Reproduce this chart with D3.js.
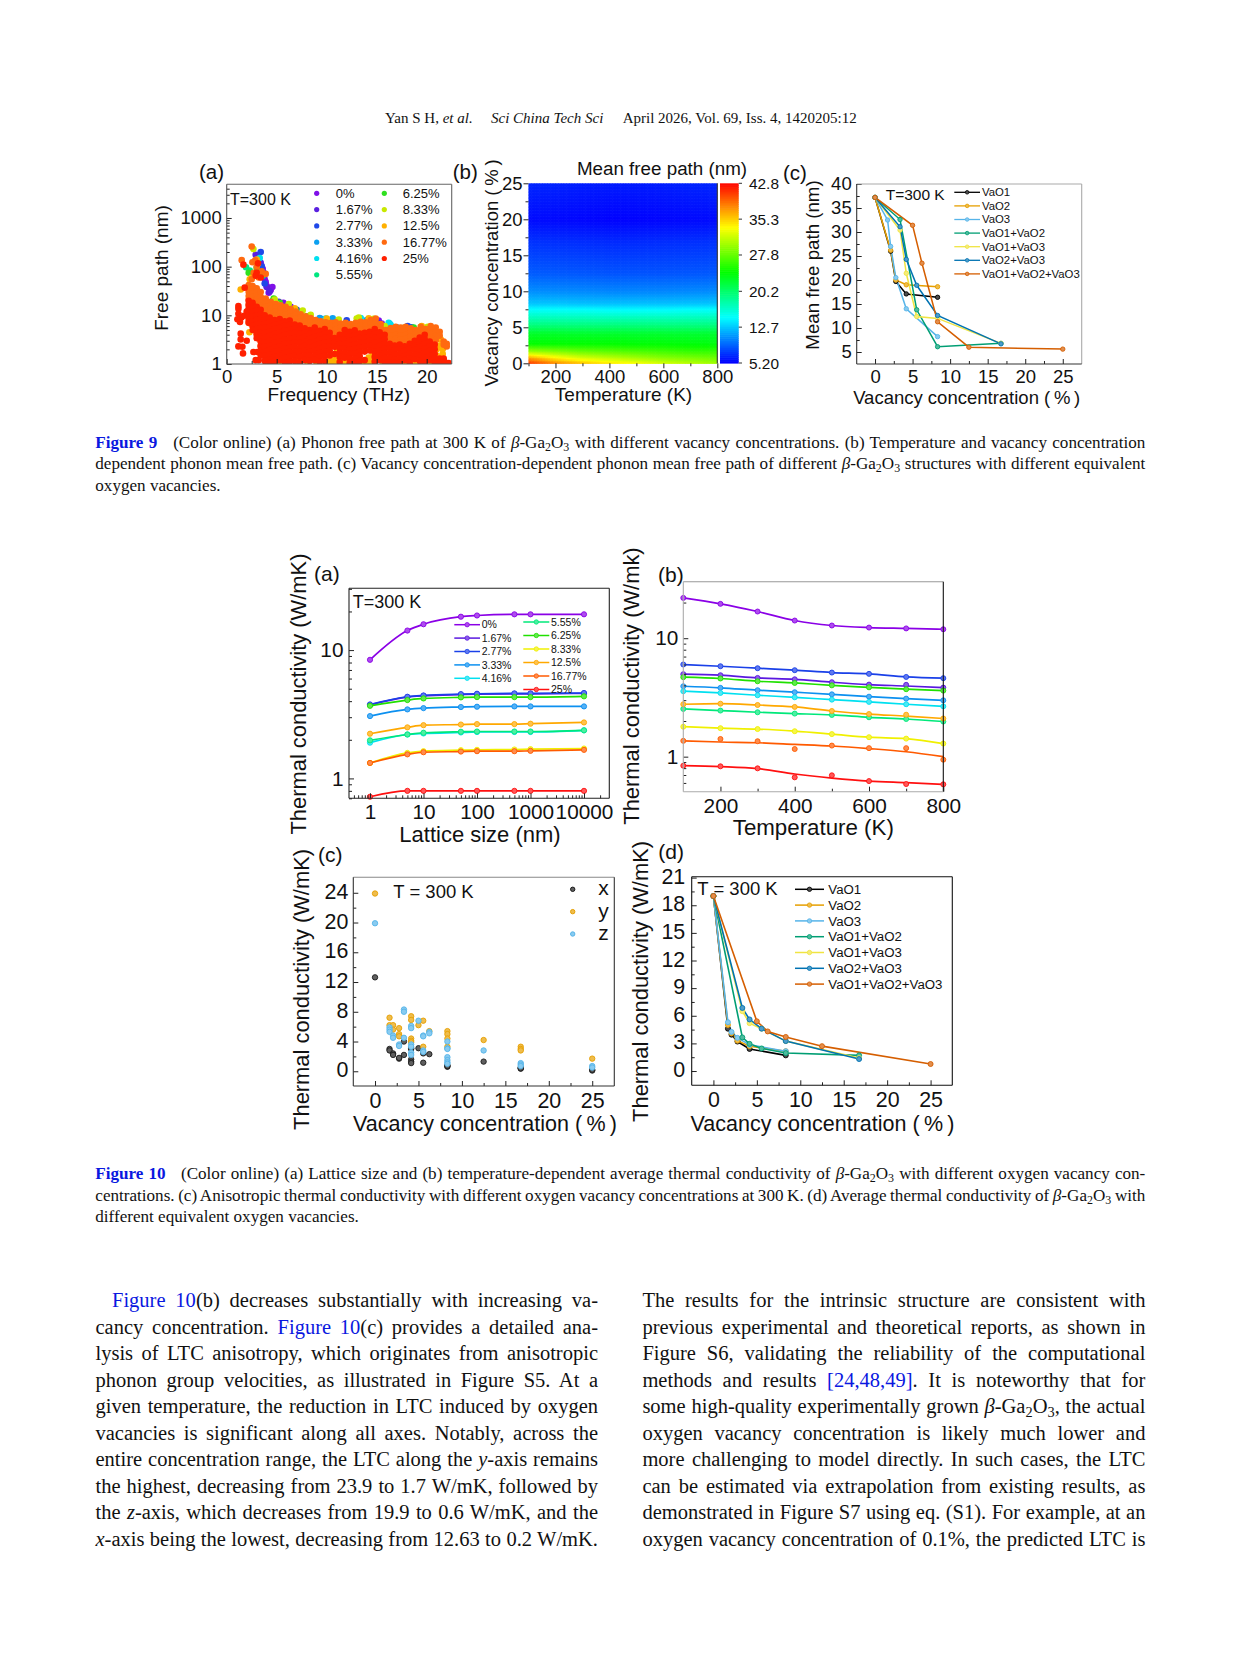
<!DOCTYPE html>
<html><head><meta charset="utf-8">
<script src="https://cdn.jsdelivr.net/npm/d3@7"></script>
<style>html,body{margin:0;padding:0;background:#fff}svg{display:block}
text{fill:#111}</style></head><body>
<svg id="page" width="1241" height="1654" viewBox="0 0 1241 1654"></svg>
<script>
// ---------- shared categories ----------
const vacancyLabels = ["0%","1.67%","2.77%","3.33%","4.16%","5.55%","6.25%","8.33%","12.5%","16.77%","25%"];
const vacancyColors = ["#7f10e8","#5a20e0","#1f48e8","#0ca0f0","#00e0f0","#00e680","#30e020","#c8e800","#ffb000","#ff6a10","#ff2000"];
const vacancyLineColors = ["#8a00e6","#5a18e0","#1a40e8","#0c90f0","#00e0f0","#00e87a","#20e000","#f0f000","#ffa800","#ff5a00","#ff1010"];
const defectLabels = ["VaO1","VaO2","VaO3","VaO1+VaO2","VaO1+VaO3","VaO2+VaO3","VaO1+VaO2+VaO3"];
const defectColors = ["#000000","#E69F00","#56B4E9","#009E73","#F0E442","#0072B2","#D55E00"];

// ---------- Fig 9(a): frequency, free path ----------
const fp0 = [[3.47,105],[3.6,90],[3.8,55],[3.9,48],[4.0,40],[4.2,29],[4.4,33],[4.57,38],[5.67,18],[6.4,15],[15.0,7.3],[15.2,7.8],[15.5,6.8],[15.9,5.3],[16.1,5]];
const fp1 = [[2.9,175],[3.4,120],[3.7,75],[4.0,38],[4.3,31],[5.2,19],[7,13],[15.1,7]];
const fp2 = [[3.4,200],[3.5,100],[3.8,45],[9.4,8.5],[12,7.9],[18.1,6],[18.5,5.7],[19.6,5.1],[16.9,5.5]];
const fp3 = [[9.3,8.8],[9.8,8.2],[10.6,8.7],[14,8],[16.3,6.7],[17,5.7]];
const fp4 = [[3.3,150],[16.2,7],[16.4,6.3],[18.6,5.4],[13.4,8.8],[9.9,8.6]];
const fp5 = [[1.93,97],[2.3,83],[3.6,65],[4.6,20],[8,9.5]];
const fp6 = [[2.2,75],[3.0,95],[3.3,62],[4.7,22],[5.3,18],[6.9,13],[17.6,5.5],[18.7,5.6]];
const fp8 = [[2.67,230],[3.1,115],[4.8,21],[6.2,17],[7.6,12.5],[8.4,10.3],[13.2,9],[13.0,8.6],[11.2,8.2],[14.7,8.5],[20.1,5.8],[15.8,6]];
const fp12 = [[1.4,34],[3,140],[2.5,60],[2.3,55],[2.27,4.5],[5,17],[6.8,14],[10,8.6],[14.2,8.7],[19.5,6],[4.2,1.1],[4.2,1.4],[4.2,1.8],[5.2,1.1],[5.2,1.4],[6.1,1.1],[6.1,1.5],[7.1,1.05],[7.1,1.35],[8.1,1.1],[8.1,1.4],[9,1.05],[9,1.4],[10.2,1.05],[10.2,1.25],[10.7,1.05],[10.7,1.3],[11,1.1],[11,1.8],[11.5,1.1],[12,1.1],[13,1.1],[13.5,1.05],[13.9,1.05],[14.1,1.1],[14.2,1.35],[14.4,1.05],[14.6,1.25],[14.6,1.6],[15.6,1.1],[16.5,1.1],[16.1,1.3],[17,1.05],[17.5,1.1],[18,1.05],[18.5,1.1],[19,1.05],[19.5,1.05],[20,1.05],[20.5,1.05],[21,1.05],[21,1.5],[21,2],[21.3,2.4],[21.4,3.2],[21.6,1.6],[21.6,2]];
const fp16 = [[2.5,260],[1.5,136],[2.57,123],[2.85,135],[3.9,71],[3.5,80],[3,100],[2.7,75],[3.2,60],[2.5,55],
 [2.2,42],[2.2,36],[2.2,30],[2.2,25],[2.2,21],[2.2,17],[2.2,14],[2.2,11],[2.2,9],[2.2,7],
 [2.6,40],[2.6,34],[2.6,28],[2.6,24],[2.6,20],[2.6,16],[2.6,13],[2.6,11],[2.6,9],[2.6,7.5],[2.6,6],
 [3.0,36],[3.0,30],[3.0,25],[3.0,21],[3.0,17],[3.0,14],[3.0,11.5],[3.0,9.5],[3.0,8],[3.0,6.5],[3.0,5],[3.0,4],
 [3.4,30],[3.4,24],[3.4,20],[3.4,16],[3.4,13],[3.4,11],[3.4,9],[3.4,7.5],[3.4,6],[3.4,4.8],[3.4,3.8],[3.4,3],[3.4,2.4],
 [3.9,22],[3.9,18],[3.9,15],[3.9,12.5],[3.9,10],[3.9,8.2],[3.9,6.8],[3.9,5.5],[3.9,4.4],[3.9,3.5],[3.9,2.8],
 [4.4,19],[4.4,16],[4.4,13.5],[4.4,11],[4.4,9],[4.4,7.4],[4.4,6],[4.4,4.9],
 [4.9,17],[4.9,14.5],[4.9,12],[4.9,10],[4.9,8.2],[4.9,6.8],[4.9,5.5],[4.9,4.5],
 [5.4,16],[5.4,13.5],[5.4,11],[5.4,9.2],[5.4,7.6],[5.4,6.2],[5.4,5],
 [5.9,15],[5.9,12.5],[5.9,10.5],[5.9,8.6],[5.9,7],[5.9,5.8],[5.9,4.7],
 [6.4,13.5],[6.4,11.5],[6.4,9.5],[6.4,8],[6.4,6.5],[6.4,5.3],
 [6.9,12],[6.9,10.2],[6.9,8.5],[6.9,7],[6.9,5.8],[6.9,4.8],
 [7.4,10.5],[7.4,9],[7.4,7.5],[7.4,6.2],[7.4,5.1],
 [7.9,9.5],[7.9,8],[7.9,6.7],[7.9,5.5],[7.9,4.5],
 [8.4,8.8],[8.4,7.3],[8.4,6.1],[8.4,5],
 [8.9,8],[8.9,6.8],[8.9,5.6],[8.9,4.6],[8.9,3.8],
 [9.4,7.5],[9.4,6.3],[9.4,5.2],[9.4,4.3],
 [9.9,7.2],[9.9,6],[9.9,5],[9.9,4.1],
 [10.4,7],[10.4,6],[10.4,5],[10.4,4.2],[10.4,3.4],[10.4,2.8],
 [10.9,7.2],[10.9,6],[10.9,5],[10.9,4.1],[10.9,3.4],
 [11.4,6.8],[11.4,5.7],[11.4,4.7],[11.4,3.9],[11.4,3.2],
 [11.9,7],[11.9,5.8],[11.9,4.8],[11.9,4],
 [12.4,6.6],[12.4,5.5],[12.4,4.6],
 [12.9,7],[12.9,5.9],[12.9,4.9],[12.9,4],
 [13.4,7.4],[13.4,6.2],[13.4,5.1],[13.4,4.2],
 [13.9,7.2],[13.9,6],[13.9,5],[13.9,4.1],
 [14.4,8],[14.4,6.6],[14.4,5.5],[14.4,4.5],[14.4,3.7],
 [14.9,8.6],[14.9,7],[14.9,5.8],[14.9,4.8],
 [15.4,6.6],[15.4,5.5],[15.4,4.5],
 [15.9,5],[15.9,4.2],[15.9,3.5],
 [16.4,5.5],[16.4,4.6],[16.4,3.8],[16.4,3.1],[16.4,2.6],
 [16.9,5.8],[16.9,4.8],[16.9,4],[16.9,3.3],[16.9,2.7],
 [17.4,5.6],[17.4,4.7],[17.4,3.9],[17.4,3.2],[17.4,2.7],
 [17.9,5.8],[17.9,4.8],[17.9,4],[17.9,3.3],[17.9,2.7],
 [18.4,5.4],[18.4,4.5],[18.4,3.7],[18.4,3],[18.4,2.5],
 [18.9,5],[18.9,4.1],[18.9,3.4],[18.9,2.8],
 [19.4,5.8],[19.4,4.8],[19.4,4],[19.4,3.3],
 [19.9,5.2],[19.9,4.3],[19.9,3.6],[19.9,3],
 [20.4,6],[20.4,5],[20.4,4.1],[20.4,3.4],[20.4,2.8],
 [20.9,5.6],[20.9,4.6],[20.9,3.8],[20.9,3.1],
 [21.3,4.6],[21.3,3.8],[21.7,2.9],[21.7,2.5],[22,2.6],[22,2.3]];
const fp25 = [[1.17,15.5],[1.17,13.7],[1.17,10.8],[1.07,8.3],[1.33,7.3],[1.47,9],[1.73,9.8],[1.4,4.2],[1.4,3.2],[2,3],[1.17,2.3],[1.57,2.26],[1.63,1.65],[2.67,1.76],[3.07,1.76],[2.9,1.2],[3.2,1.2],[1.67,110],[1.8,37],[2,12],[3.13,117],[3,75],[2.9,65],[3.4,60],
 [2.2,20],[2.2,16],[2.2,13],[2.2,10],[2.2,8],[2.2,7],
 [2.6,18],[2.6,15],[2.6,12],[2.6,9.5],[2.6,7.5],[2.6,6],[2.6,5],
 [3,15],[3,12.5],[3,10],[3,8],[3,6.5],[3,5.2],[3,4.2],[3,3.4],
 [3.4,13],[3.4,10.5],[3.4,8.5],[3.4,7],[3.4,5.6],[3.4,4.5],[3.4,3.6],[3.4,2.9],[3.4,2.3],[3.4,1.9],[3.4,1.5],
 [3.8,10],[3.8,8.2],[3.8,6.8],[3.8,5.5],[3.8,4.4],[3.8,3.5],[3.8,2.8],[3.8,2.3],[3.8,1.8],[3.8,1.45],[3.8,1.15],
 [4.3,9],[4.3,7.2],[4.3,5.8],[4.3,4.7],[4.3,3.8],[4.3,3],[4.3,2.4],[4.3,1.95],[4.3,1.55],[4.3,1.25],[4.3,1.05],
 [4.8,8],[4.8,6.5],[4.8,5.3],[4.8,4.2],[4.8,3.4],[4.8,2.7],[4.8,2.2],[4.8,1.75],[4.8,1.4],[4.8,1.15],
 [5.3,8.4],[5.3,6.8],[5.3,5.5],[5.3,4.4],[5.3,3.6],[5.3,2.9],[5.3,2.3],[5.3,1.85],[5.3,1.5],[5.3,1.2],
 [5.8,7.5],[5.8,6],[5.8,4.9],[5.8,4],[5.8,3.2],[5.8,2.6],[5.8,2.1],[5.8,1.7],[5.8,1.35],[5.8,1.08],
 [6.3,7.8],[6.3,6.3],[6.3,5.1],[6.3,4.1],[6.3,3.3],[6.3,2.65],[6.3,2.15],[6.3,1.75],[6.3,1.4],[6.3,1.12],
 [6.8,6.5],[6.8,5.3],[6.8,4.3],[6.8,3.5],[6.8,2.8],[6.8,2.25],[6.8,1.8],[6.8,1.45],[6.8,1.15],
 [7.3,6.2],[7.3,5],[7.3,4.1],[7.3,3.3],[7.3,2.7],[7.3,2.15],[7.3,1.75],[7.3,1.4],[7.3,1.1],
 [7.8,5.4],[7.8,4.4],[7.8,3.6],[7.8,2.9],[7.8,2.35],[7.8,1.9],[7.8,1.5],[7.8,1.2],
 [8.3,5],[8.3,4.1],[8.3,3.3],[8.3,2.7],[8.3,2.2],[8.3,1.8],[8.3,1.45],[8.3,1.15],
 [8.8,5.6],[8.8,4.5],[8.8,3.6],[8.8,2.9],[8.8,2.35],[8.8,1.9],[8.8,1.5],[8.8,1.2],
 [9.3,4.8],[9.3,3.9],[9.3,3.2],[9.3,2.6],[9.3,2.1],[9.3,1.7],[9.3,1.4],[9.3,1.1],
 [9.8,5.2],[9.8,4.2],[9.8,3.4],[9.8,2.8],[9.8,2.25],[9.8,1.8],[9.8,1.45],[9.8,1.15],
 [10.3,4.4],[10.3,3.6],[10.3,2.9],[10.3,2.3],[10.3,1.9],[10.3,1.5],
 [10.8,3.4],[10.8,2.8],[10.8,2.25],[10.8,1.6],
 [11.3,4],[11.3,3.2],[11.3,2.6],[11.3,2.1],[11.3,1.7],[11.3,1.4],[11.3,1.1],
 [11.8,5],[11.8,4],[11.8,3.2],[11.8,2.6],[11.8,2.1],[11.8,1.7],[11.8,1.35],
 [12.3,4.6],[12.3,3.7],[12.3,3],[12.3,2.4],[12.3,2],[12.3,1.6],[12.3,1.3],[12.3,1.05],
 [12.8,4.9],[12.8,3.9],[12.8,3.2],[12.8,2.55],[12.8,2.05],[12.8,1.65],[12.8,1.3],[12.8,1.05],
 [13.3,4.2],[13.3,3.4],[13.3,2.7],[13.3,2.2],[13.3,1.8],[13.3,1.45],[13.3,1.15],
 [13.8,4.4],[13.8,3.5],[13.8,2.8],[13.8,2.25],[13.8,1.8],[13.8,1.2],
 [14.3,4.6],[14.3,3.7],[14.3,3],[14.3,2.4],[14.3,1.9],
 [14.8,5.2],[14.8,4.2],[14.8,3.4],[14.8,2.7],[14.8,2.2],[14.8,1.75],[14.8,1.4],[14.8,1.12],
 [15.3,4.5],[15.3,3.6],[15.3,2.9],[15.3,2.35],[15.3,1.9],[15.3,1.5],[15.3,1.2],
 [15.8,4],[15.8,3.2],[15.8,2.6],[15.8,2.1],[15.8,1.7],[15.8,1.35],[15.8,1.08],
 [16.3,2.6],[16.3,2.1],[16.3,1.7],[16.3,1.35],[16.3,1.08],
 [16.8,2.4],[16.8,1.95],[16.8,1.55],[16.8,1.25],[16.8,1.05],
 [17.3,2.5],[17.3,2],[17.3,1.6],[17.3,1.3],[17.3,1.05],
 [17.8,2.3],[17.8,1.85],[17.8,1.5],[17.8,1.2],
 [18.3,2.6],[18.3,2.05],[18.3,1.65],[18.3,1.3],[18.3,1.05],
 [18.8,3],[18.8,2.4],[18.8,1.95],[18.8,1.55],[18.8,1.25],
 [19.3,3.5],[19.3,2.8],[19.3,2.25],[19.3,1.8],[19.3,1.45],[19.3,1.15],
 [19.8,4],[19.8,3.2],[19.8,2.6],[19.8,2.1],[19.8,1.7],[19.8,1.35],[19.8,1.08],
 [20.3,2.9],[20.3,2.3],[20.3,1.85],[20.3,1.5],[20.3,1.2],
 [20.8,2.5],[20.8,2],[20.8,1.6],[20.8,1.3],[20.8,1.05],
 [21.3,1.3],[21.3,1.1],[21.7,1.3],[21.8,1.1],[22.2,1.05]];
const freePathSeries = [fp0,fp1,fp2,fp3,fp4,fp5,fp6,fp8,fp12,fp16,fp25];

// ---------- Fig 9(b): mean free path heat map ----------
const hmTemps = [100,200,300,400,500,600,700,800];
const hmVac = [0,0.8,1.67,2.77,4.16,5.55,6.25,7.4,8.33,10,12.5,17,20,25];
const hmRow0  = [41,38,36,34.5,33.5,32,31,30];
const hmRow1  = [37,34,32,31,30,29,28.5,28];
const hmRow2  = [30,29,28,27.5,27,26.5,26,26];
const hmRow3  = [24,24,24,24,23.8,23.8,23.6,23.5];
const hmRow4  = [22.5,22.5,22.4,22.4,22.3,22.3,22.2,22.2];
const hmRow5  = [19,19,19,19,19,18.9,18.9,18.9];
const hmRow6  = [17.5,17.5,17.5,17.5,17.5,17.5,17.5,17.5];
const hmRow7  = [15,15,15,14.8,14.8,14.8,15,15];
const hmRow8  = [12.5,12.5,12.3,12.3,12.3,12.3,12.4,12.5];
const hmRow9  = [10.5,10.4,10.3,10.2,10.2,10.2,10.3,10.4];
const hmRow10 = [8.6,8.5,8.4,8.3,8.3,8.3,8.4,8.5];
const hmRow11 = [7,6.9,6.8,6.7,6.7,6.8,6.9,7];
const hmRow12 = [5.6,5.5,5.4,5.3,5.3,5.4,5.5,5.6];
const hmRow13 = [6.6,6.5,6.3,6.2,6.2,6.3,6.5,6.6];
const hmRows = [hmRow0,hmRow1,hmRow2,hmRow3,hmRow4,hmRow5,hmRow6,hmRow7,hmRow8,hmRow9,hmRow10,hmRow11,hmRow12,hmRow13];
const cbTicks = ["42.8","35.3","27.8","20.2","12.7","5.20"];

// ---------- Fig 9(c) ----------
const mfp1 = [[0,37.2],[2.08,26],[2.77,19.7],[4.16,17.1],[8.33,16.4]];
const mfp2 = [[0,37.2],[2.08,26.2],[2.77,20],[4.16,19],[8.33,18.6]];
const mfp3 = [[0,37.2],[1.67,32.5],[2.08,27],[2.77,20.5],[4.16,14],[8.33,8.2]];
const mfp12 = [[0,37.2],[3.33,32.6],[5.55,13.8],[8.33,6.1],[16.77,6.8]];
const mfp13 = [[0,37.2],[3.33,30.4],[4.16,21.4],[5.55,12.4],[8.33,12],[16.77,6.8]];
const mfp23 = [[0,37.2],[3.33,31.1],[4.16,24.3],[5.55,18.9],[8.33,12.6],[16.77,6.7]];
const mfp123 = [[0,37.2],[5,31.4],[6.25,23.5],[8.33,11.3],[12.5,6],[25,5.6]];
const mfpSeries = [mfp1,mfp2,mfp3,mfp12,mfp13,mfp23,mfp123];

// ---------- Fig 10(a) ----------
const latticeSizes = [1,5,10,50,100,500,1000,10000];
const ls0 = [8.4,14.2,15.9,18.2,18.6,19,19,19];
const ls1 = [3.74,4.3,4.4,4.5,4.53,4.56,4.56,4.6];
const ls2 = [3.77,4.33,4.43,4.54,4.57,4.6,4.6,4.63];
const ls3 = [3.06,3.45,3.53,3.6,3.62,3.64,3.64,3.64];
const ls4 = [1.9,2.2,2.24,2.28,2.3,2.3,2.3,2.37];
const ls5 = [1.98,2.2,2.27,2.31,2.32,2.32,2.32,2.37];
const ls6 = [3.68,4.08,4.2,4.28,4.3,4.3,4.3,4.36];
const ls8 = [1.32,1.58,1.63,1.66,1.67,1.68,1.69,1.71];
const ls12 = [2.23,2.5,2.6,2.63,2.65,2.65,2.67,2.73];
const ls16 = [1.32,1.54,1.6,1.62,1.63,1.63,1.64,1.67];
const ls25 = [0.72,0.8,0.8,0.8,0.8,0.8,0.8,0.8];
const latticeSeries = [ls0,ls1,ls2,ls3,ls4,ls5,ls6,ls8,ls12,ls16,ls25];

// ---------- Fig 10(b) ----------
const temps = [100,200,300,400,500,600,700,800];
const tc0 = [21.9,19.5,16.8,14.1,12.8,12.3,12.1,11.9];
const tc1 = [4.97,4.87,4.62,4.5,4.25,4.06,3.95,3.83];
const tc2 = [6.0,5.8,5.58,5.37,5.13,5.0,4.71,4.6];
const tc3 = [3.93,3.81,3.64,3.5,3.36,3.21,3.09,2.99];
const tc4 = [3.57,3.45,3.3,3.17,3.03,2.9,2.77,2.66];
const tc5 = [2.53,2.45,2.37,2.31,2.25,2.15,2.08,1.98];
const tc6 = [4.69,4.57,4.33,4.19,4.0,3.85,3.71,3.61];
const tc8 = [1.79,1.74,1.71,1.64,1.55,1.46,1.42,1.29];
const tc12 = [2.77,2.8,2.73,2.63,2.43,2.29,2.2,2.1];
const tc16 = [1.36,1.33,1.31,1.27,1.23,1.17,1.10,1.0];
const tc25 = [0.839,0.823,0.792,0.714,0.66,0.622,0.603,0.584];
const tempSeries = [tc0,tc1,tc2,tc3,tc4,tc5,tc6,tc8,tc12,tc16,tc25];
// measured dots where they sit off the fitted curves
const dots1 = [4.97,4.87,4.62,4.5,4.25,4.06,4.04,3.83];
const dots12 = [2.77,2.8,2.73,2.63,2.43,2.29,2.26,2.1];
const dots16 = [1.36,1.41,1.35,1.16,1.24,1.18,1.18,0.943];
const dots25 = [0.839,0.829,0.797,0.669,0.696,0.622,0.587,0.584];
const tempDots = [tc0,dots1,tc2,tc3,tc4,tc5,tc6,tc8,dots12,dots16,dots25];

// ---------- Fig 10(c) ----------
const axisLabels = ["x","y","z"];
const axisColors = ["#1a1a1a","#E69F00","#56B4E9"];
const kx = [[0,12.63],[1.67,3],[1.67,2.8],[2.08,2.4],[2.08,2.2],[2.77,1.7],[2.77,1.8],[3.33,2.2],[3.33,4],[4.16,3.1],[4.16,3],[4.16,1.6],[4.16,1.3],[4.16,1.1],[5,3.1],[5.55,2.4],[5.55,1.15],[6.25,2.3],[8.33,0.6],[8.33,0.8],[8.33,0.7],[12.5,1.3],[16.77,0.35],[16.77,0.5],[16.77,0.4],[25,0.1],[25,0.2]];
const ky = [[0,23.9],[1.67,7.2],[1.67,6.2],[2.08,6.2],[2.08,5.6],[2.77,5.8],[2.77,5],[2.77,4.7],[4.16,7.4],[4.16,6.9],[4.16,4.4],[4.16,4.1],[4.16,3.9],[5,6.2],[5.55,6.8],[5.55,3.3],[6.25,5.4],[8.33,5.4],[8.33,5],[8.33,4.4],[8.33,3.3],[12.5,4.2],[16.77,3.3],[16.77,3],[16.77,2.8],[25,1.7]];
const kz = [[0,19.9],[1.67,5.9],[1.67,5.6],[1.67,5.3],[2.08,4.8],[2.08,4.5],[2.77,3.6],[2.77,3.4],[3.33,8.3],[3.33,8],[3.33,4.5],[4.16,6.1],[4.16,5.8],[4.16,3.6],[4.16,3.3],[4.16,2.5],[4.16,2.2],[5,6.8],[5.55,4.8],[5.55,4.7],[5.55,2.8],[5.55,2.6],[6.25,5.3],[6.25,5.1],[8.33,4],[8.33,3.1],[8.33,3],[8.33,1.9],[8.33,1.5],[8.33,1.2],[8.33,1],[12.5,2.8],[16.77,1.1],[16.77,0.9],[16.77,0.7],[25,0.7],[25,0.5]];
const kSeries = [kx,ky,kz];

// ---------- Fig 10(d) ----------
const kd1 = [[0,19],[1.67,4.6],[2.08,3.95],[2.77,3.2],[4.16,2.4],[8.33,1.7]];
const kd2 = [[0,19],[1.67,5],[2.08,4.1],[2.77,3.3],[4.16,2.7],[8.33,2.15]];
const kd3 = [[0,19],[1.67,5.3],[2.08,4.25],[2.77,3.6],[4.16,2.85],[8.33,2.15]];
const kd12 = [[0,19],[3.33,3.65],[4.16,2.95],[5.55,2.45],[8.33,1.95],[16.77,1.7]];
const kd13 = [[0,19],[3.33,6.5],[4.16,5.2],[5.55,4.6],[8.33,3.25],[16.77,1.4]];
const kd23 = [[0,19],[3.33,6.85],[4.16,5.6],[5.55,4.6],[8.33,3.25],[16.77,1.3]];
const kd123 = [[0,19],[5,5.4],[6.25,4.3],[8.33,3.7],[12.5,2.7],[25,0.76]];
const kdSeries = [kd1,kd2,kd3,kd12,kd13,kd23,kd123];

// ---------- page text ----------
// markup: *italic*  ~subscript~  «blue»  ‹bold blue›
const headerParts = [["Yan S H, *et al.*",385,0],["*Sci China Tech Sci*",491,0],["April 2026, Vol. 69, Iss. 4, 1420205:12",622.7,234]];
const vacTitle = "Vacancy concentration (\u2009%\u2009)";
const cap9 = ["‹Figure 9›\u00a0\u00a0\u00a0(Color online) (a) Phonon free path at 300 K of *β*-Ga~2~O~3~ with different vacancy concentrations. (b) Temperature and vacancy concentration",
 "dependent phonon mean free path. (c) Vacancy concentration-dependent phonon mean free path of different *β*-Ga~2~O~3~ structures with different equivalent",
 "oxygen vacancies."];
const cap10 = ["‹Figure 10›\u00a0\u00a0\u00a0(Color online) (a) Lattice size and (b) temperature-dependent average thermal conductivity of *β*-Ga~2~O~3~ with different oxygen vacancy con-",
 "centrations. (c) Anisotropic thermal conductivity with different oxygen vacancy concentrations at 300 K. (d) Average thermal conductivity of *β*-Ga~2~O~3~ with",
 "different equivalent oxygen vacancies."];
const col1 = ["«Figure 10»(b) decreases substantially with increasing va-",
 "cancy concentration. «Figure 10»(c) provides a detailed ana-",
 "lysis of LTC anisotropy, which originates from anisotropic",
 "phonon group velocities, as illustrated in Figure S5. At a",
 "given temperature, the reduction in LTC induced by oxygen",
 "vacancies is significant along all axes. Notably, across the",
 "entire concentration range, the LTC along the *y*-axis remains",
 "the highest, decreasing from 23.9 to 1.7 W/mK, followed by",
 "the *z*-axis, which decreases from 19.9 to 0.6 W/mK, and the",
 "*x*-axis being the lowest, decreasing from 12.63 to 0.2 W/mK."];
const col2 = ["The results for the intrinsic structure are consistent with",
 "previous experimental and theoretical reports, as shown in",
 "Figure S6, validating the reliability of the computational",
 "methods and results «[24,48,49]». It is noteworthy that for",
 "some high-quality experimentally grown *β*-Ga~2~O~3~, the actual",
 "oxygen vacancy concentration is likely much lower and",
 "more challenging to model directly. In such cases, the LTC",
 "can be estimated via extrapolation from existing results, as",
 "demonstrated in Figure S7 using eq. (S1). For example, at an",
 "oxygen vacancy concentration of 0.1%, the predicted LTC is"];

// ---------- helpers ----------
const svg = d3.select("#page");
svg.append("rect").attr("width",1241).attr("height",1654).attr("fill","#fff");
const SANS = "'Liberation Sans',Arial,sans-serif", SERIF = "'Liberation Serif','Times New Roman',serif";

function label(s,x,y,size,o={}){
  const t = svg.append("text").text(s).attr("font-family",SANS).attr("font-size",size)
    .attr("text-anchor",o.anchor||"start").attr("x",x).attr("y",y);
  if(o.rot) t.attr("transform",`rotate(${o.rot} ${x} ${y})`);
  return t;
}
function log10Minor(a,b){const out=[];for(let e=a;e<=b;e++)for(let m=2;m<=9;m++)out.push(m*10**e);return out;}

function axes(b,x,y,o){
  const fs=o.fs, g=svg.append("g").attr("font-family",SANS), inner=o.out?5:-5, minor=o.out?3:-3;
  const pos=Math.max(inner,0);
  const xa=d3.axisBottom(x).tickValues(o.xt).tickFormat(o.xf||String).tickSizeInner(inner).tickSizeOuter(0).tickPadding(o.xBase-0.71*fs-pos);
  const ya=d3.axisLeft(y).tickValues(o.yt).tickFormat(o.yf||String).tickSizeInner(inner).tickSizeOuter(0).tickPadding(o.yGap-pos);
  const clean=s=>{s.select(".domain").remove();s.selectAll("text").attr("font-size",fs).attr("fill","#111").attr("font-family",SANS);s.selectAll("line").attr("stroke","#222");};
  g.append("g").attr("transform",`translate(0,${b.b})`).call(xa).call(clean);
  const yg=g.append("g").attr("transform",`translate(${b.l},0)`).call(ya).call(clean);
  if(o.yDy) yg.selectAll("text").attr("dy",o.yDy);
  if(o.xm) g.append("g").attr("transform",`translate(0,${b.b})`).call(d3.axisBottom(x).tickValues(o.xm).tickFormat("").tickSizeInner(minor).tickSizeOuter(0)).call(clean);
  if(o.ym) g.append("g").attr("transform",`translate(${b.l},0)`).call(d3.axisLeft(y).tickValues(o.ym).tickFormat("").tickSizeInner(minor).tickSizeOuter(0)).call(clean);
  const c=o.frame||{};
  [[b.l,b.t,b.r,b.t,c.top||"#555"],[b.r,b.t,b.r,b.b,c.right||"#555"],[b.l,b.b,b.r,b.b,c.bottom||"#333"],[b.l,b.t,b.l,b.b,c.left||"#333"]]
    .filter(d=>d[4]!=="none")
    .forEach(d=>g.append("line").attr("x1",d[0]).attr("y1",d[1]).attr("x2",d[2]).attr("y2",d[3]).attr("stroke",d[4]).attr("stroke-width",1.1));
}
const lighter=c=>d3.interpolateRgb(c,"#fff")(0.3);
function lineSeries(pts,x,y,color,w,curve){
  svg.append("path").datum(pts).attr("fill","none").attr("stroke",color).attr("stroke-width",w)
   .attr("d",d3.line().x(d=>x(d[0])).y(d=>y(d[1])).curve(curve||d3.curveLinear));
}
function dotsOf(pts,x,y,color,r){
  svg.append("g").selectAll("circle").data(pts).join("circle").attr("cx",d=>x(d[0])).attr("cy",d=>y(d[1])).attr("r",r)
    .attr("fill",lighter(color)).attr("stroke",color).attr("stroke-width",0.9);
}
function lineLegend(labels,colors,x1,x2,tx,y0,step,fs,r,w){
  labels.forEach((s,i)=>{
    const yy=y0+i*step;
    svg.append("line").attr("x1",x1).attr("x2",x2).attr("y1",yy).attr("y2",yy).attr("stroke",colors[i]).attr("stroke-width",w);
    svg.append("circle").attr("cx",(x1+x2)/2).attr("cy",yy).attr("r",r).attr("fill",lighter(colors[i])).attr("stroke",colors[i]).attr("stroke-width",.8);
    label(s,tx,yy+fs*0.35,fs);
  });
}

// rich, justified text
function rich(str,x,y,size,width){
  const t=svg.append("text").attr("x",x).attr("y",y).attr("font-family",SERIF).attr("font-size",size).attr("xml:space","preserve").style("white-space","pre");
  let shift=0;
  str.split(/(\*[^*]+\*|~[^~]+~|«[^»]+»|‹[^›]+›)/).filter(s=>s).forEach(s=>{
    const c=s[0];
    let txt=s, sp=t.append("tspan");
    if(c==="*"){txt=s.slice(1,-1);sp.attr("font-style","italic");}
    else if(c==="«"){txt=s.slice(1,-1);sp.style("fill","#0a18e0");}
    else if(c==="‹"){txt=s.slice(1,-1);sp.style("fill","#0a18e0").attr("font-weight","bold");}
    else if(c==="~"){txt=s.slice(1,-1);sp.attr("font-size",size*0.7).attr("dy",size*0.2);shift=size*0.2;sp.text(txt);return;}
    if(shift){sp.attr("dy",-shift);shift=0;}
    sp.text(txt);
  });
  if(width){
    const n=(str.match(/[ \u00a0]/g)||[]).length, L=t.node().getComputedTextLength();
    if(n) t.attr("word-spacing",(width-L)/n);
  }
  return t;
}

// ---------- header & text ----------
headerParts.forEach(p=>rich(p[0],p[1],122.5,15,p[2]));
[447.5,469,491].forEach((yy,i)=>rich(cap9[i],95.3,yy,17.1,i<2?1050:0));
[1179,1201,1222].forEach((yy,i)=>rich(cap10[i],95.3,yy,17.1,i<2?1050:0));
col1.forEach((s,i)=>rich(s,i===0?112:95.5,1307.3+i*26.52,20.5,i===0?486:502.5));
col2.forEach((s,i)=>rich(s,642.4,1307.3+i*26.52,20.5,503));

// ---------- Fig 9(a) ----------
{
  const b={l:226.7,r:451.7,t:184.3,b:364};
  const x=d3.scaleLinear().domain([0,22.5]).range([b.l,b.r]);
  const yTop=10**(3+33.7/48.7);
  const y=d3.scaleLog().domain([1,yTop]).range([b.b,b.t]);
  svg.append("clipPath").attr("id","clip9a").append("rect").attr("x",b.l).attr("y",b.t).attr("width",b.r-b.l).attr("height",b.b-b.t);
  const g=svg.append("g").attr("clip-path","url(#clip9a)");
  freePathSeries.forEach((pts,i)=>{
    g.append("g").selectAll("circle").data(pts).join("circle").attr("cx",d=>x(d[0])).attr("cy",d=>y(d[1])).attr("r",3.3).attr("fill",vacancyColors[i]);
  });
  axes(b,x,y,{fs:18.5,xt:[0,5,10,15,20],yt:[1,10,100,1000],xm:[2.5,7.5,12.5,17.5],ym:log10Minor(0,3).filter(d=>d<yTop),xBase:19,yGap:5,frame:{top:"#666",right:"#666",left:"#555",bottom:"#555"}});
  label("T=300 K",230,204.5,16);
  vacancyLabels.forEach((s,i)=>{
    const col=i<6?0:1, row=i<6?i:i-6, yy=193.3+row*16.3;
    svg.append("circle").attr("cx",col?384.3:316.7).attr("cy",yy).attr("r",2.6).attr("fill",vacancyColors[i]);
    label(s,col?402.7:335.7,yy+4.5,13);
  });
  label("Free path (nm)",168,268,19,{anchor:"middle",rot:-90});
  label("Frequency (THz)",338.8,401,19,{anchor:"middle"});
  label("(a)",199,179,20.5);
}
// ---------- Fig 9(b) ----------
{
  const b={l:528.5,r:717.3,t:183.3,b:363.3};
  const x=d3.scaleLinear().domain([100,800]).range([b.l,b.r]);
  const y=d3.scaleLinear().domain([0,25]).range([b.b,b.t]);
  const color=d3.scaleLinear().domain([5.2,14.6,24,33.4,42.8]).range(["#0000ff","#00ffff","#00ff00","#ffff00","#ff0000"]);
  // render the read matrix smoothly: sample it between the grid nodes
  const sample=(t,v)=>{
    const i=Math.min(d3.bisectRight(hmVac,v)-1,hmVac.length-2), j=Math.min(d3.bisectRight(hmTemps,t)-1,hmTemps.length-2);
    const fv=(v-hmVac[i])/(hmVac[i+1]-hmVac[i]), ft=(t-hmTemps[j])/(hmTemps[j+1]-hmTemps[j]);
    const a=hmRows[i][j]*(1-ft)+hmRows[i][j+1]*ft, c=hmRows[i+1][j]*(1-ft)+hmRows[i+1][j+1]*ft;
    return a*(1-fv)+c*fv;
  };
  const cols=d3.range(70).map(k=>100+700*k/70), rows=d3.range(120).map(k=>25*k/120);
  const dt=10, dv=25/120;
  const cells=d3.cross(cols,rows);
  svg.append("g").selectAll("rect").data(cells).join("rect")
    .attr("x",d=>x(d[0])).attr("y",d=>y(d[1]+dv)).attr("width",d=>Math.min(x(dt+100)-x(100)+.6,b.r-x(d[0]))).attr("height",y(0)-y(dv)+.6)
    .attr("fill",d=>color(sample(d[0]+dt/2,d[1]+dv/2)));
  axes(b,x,y,{fs:18.5,out:true,xt:[200,400,600,800],yt:[0,5,10,15,20,25],xm:[100,300,500,700],ym:[2.5,7.5,12.5,17.5,22.5],xBase:19.5,yGap:6,frame:{top:"none",right:"#333",bottom:"none",left:"none"}});
  // colour bar
  const cb=d3.scaleLinear().domain([5.2,42.8]).range([363,183.3]);
  const stepsCb=d3.range(5.2,42.8,0.4);
  svg.append("g").selectAll("rect").data(stepsCb).join("rect").attr("x",720).attr("width",18.7)
    .attr("y",d=>cb(d+0.4)).attr("height",d=>cb(d)-cb(d+0.4)+.6).attr("fill",d=>color(d));
  cbTicks.forEach(s=>{
    const yy=cb(+s);
    svg.append("line").attr("x1",738.7).attr("x2",742).attr("y1",yy).attr("y2",yy).attr("stroke","#333");
    label(s,749,yy+5.5,15.4);
  });
  label("Mean free path (nm)",662,175,18.8,{anchor:"middle"});
  label(vacTitle,498,273,18.5,{anchor:"middle",rot:-90});
  label("Temperature (K)",623.5,401,19,{anchor:"middle"});
  label("(b)",452.7,179,20.5);
}
// ---------- Fig 9(c) ----------
{
  const b={l:856.7,r:1081.7,t:184,b:364};
  const x=d3.scaleLinear().domain([-2.44,27.52]).range([b.l,b.r]);
  const y=d3.scaleLinear().domain([2.5,40]).range([b.b,b.t]);
  mfpSeries.forEach((pts,i)=>lineSeries(pts,x,y,defectColors[i],1.5));
  mfpSeries.forEach((pts,i)=>dotsOf(pts,x,y,defectColors[i],2.2));
  axes(b,x,y,{fs:18.5,xt:[0,5,10,15,20,25],yt:[5,10,15,20,25,30,35,40],xm:[2.5,7.5,12.5,17.5,22.5],ym:[7.5,12.5,17.5,22.5,27.5,32.5,37.5],xBase:19,yGap:5,frame:{top:"#aaa",right:"#aaa",left:"#333",bottom:"#333"}});
  label("T=300 K",885.7,199.5,15.5);
  lineLegend(defectLabels,defectColors,954.3,980,982,192.3,13.6,11.35,1.8,1.3);
  label("Mean free path (nm)",819,265,18.7,{anchor:"middle",rot:-90});
  label(vacTitle,966.7,404,18.5,{anchor:"middle"});
  label("(c)",783,180,20.5);
}
// ---------- Fig 10(a) ----------
{
  const b={l:349,r:609.3,t:588.3,b:798.3};
  const x=d3.scaleLog().domain([10**(-21/53.5),10**(4+25.3/53.5)]).range([b.l,b.r]);
  const y=d3.scaleLog().domain([0.7,30.3]).range([b.b,b.t]);
  latticeSeries.forEach((v,i)=>{
    const pts=latticeSizes.map((s,k)=>[s,v[k]]);
    lineSeries(pts,x,y,vacancyLineColors[i],1.7,d3.curveMonotoneX);
    dotsOf(pts,x,y,vacancyLineColors[i],2.6);
  });
  axes(b,x,y,{fs:20.8,xt:[1,10,100,1000,10000],yt:[1,10],xm:log10Minor(-1,4).filter(d=>d>x.domain()[0]&&d<x.domain()[1]),ym:log10Minor(-1,1).filter(d=>d>0.7&&d<30.3),xBase:21,yGap:5.5,frame:{top:"#222",right:"#222",left:"#222",bottom:"#222"}});
  label("T=300 K",352.7,608,18);
  lineLegend(vacancyLabels.slice(0,5),vacancyLineColors.slice(0,5),454.3,480,481.7,624.7,13.4,10.5,2.2,1.5);
  lineLegend(vacancyLabels.slice(5),vacancyLineColors.slice(5),523.3,549.3,551,622,13.5,10.5,2.2,1.5);
  label("Thermal conductivity (W/mK)",306,694,21.9,{anchor:"middle",rot:-90});
  label("Lattice size (nm)",480,841.7,22,{anchor:"middle"});
  label("(a)",314,581,21);
}
// ---------- Fig 10(b) ----------
{
  const b={l:683.3,r:943.3,t:581.7,b:791.7};
  const x=d3.scaleLinear().domain([100,800]).range([b.l,b.r]);
  const y=d3.scaleLog().domain([0.506,30]).range([b.b,b.t]);
  tempSeries.forEach((v,i)=>{
    lineSeries(temps.map((t,k)=>[t,v[k]]),x,y,vacancyLineColors[i],1.7,d3.curveMonotoneX);
    dotsOf(tempDots[i].map((d,k)=>[temps[k],d]),x,y,vacancyLineColors[i],2.5);
  });
  axes(b,x,y,{fs:20.8,xt:[200,400,600,800],yt:[1,10],xm:[300,500,700],ym:log10Minor(-1,1).filter(d=>d>0.51&&d<30),xBase:21.5,yGap:5,frame:{top:"#999",right:"#111",left:"#aaa",bottom:"#aaa"}});
  label("Thermal conductivity (W/mk)",639,686,21.9,{anchor:"middle",rot:-90});
  label("Temperature (K)",813.3,835,22.3,{anchor:"middle"});
  label("(b)",658,582,21);
}
// ---------- Fig 10(c) ----------
{
  const b={l:353.3,r:614.3,t:877.3,b:1086};
  const x=d3.scaleLinear().domain([-2.5,27.54]).range([b.l,b.r]);
  const y=d3.scaleLinear().domain([-1.98,26.08]).range([b.b,b.t]);
  kSeries.forEach((pts,i)=>dotsOf(pts,x,y,axisColors[i],2.7));
  axes(b,x,y,{fs:21.4,xt:[0,5,10,15,20,25],yt:[0,4,8,12,16,20,24],xm:[2.5,7.5,12.5,17.5,22.5],ym:[2,6,10,14,18,22],xBase:22,yGap:5,yDy:"0.26em",frame:{top:"#888",right:"#333",left:"#333",bottom:"#333"}});
  label("T = 300 K",393.3,897.5,18.5);
  axisLabels.forEach((s,i)=>{
    const yy=889.3+i*22.35;
    svg.append("circle").attr("cx",572.7).attr("cy",yy).attr("r",2.2).attr("fill",lighter(axisColors[i])).attr("stroke",axisColors[i]);
    label(s,598.3,yy+6,21);
  });
  label("Thermal conductivity (W/mK)",309,989.4,21.9,{anchor:"middle",rot:-90});
  label(vacTitle,485,1131,21.5,{anchor:"middle"});
  label("(c)",318,862,21);
}
// ---------- Fig 10(d) ----------
{
  const b={l:691.7,r:952.3,t:876.7,b:1085.3};
  const x=d3.scaleLinear().domain([-2.5,27.5]).range([b.l,b.r]);
  const y=d3.scaleLinear().domain([-1.55,21.1]).range([b.b,b.t]);
  kdSeries.forEach((pts,i)=>lineSeries(pts,x,y,defectColors[i],1.6));
  kdSeries.forEach((pts,i)=>dotsOf(pts,x,y,defectColors[i],2.5));
  axes(b,x,y,{fs:21.4,xt:[0,5,10,15,20,25],yt:[0,3,6,9,12,15,18,21],xm:[2.5,7.5,12.5,17.5,22.5],ym:[1.5,4.5,7.5,10.5,13.5,16.5,19.5],xBase:21.5,yGap:6.5,yDy:"0.26em",frame:{top:"#111",right:"#111",left:"#111",bottom:"#111"}});
  label("T = 300 K",697.3,895,18.5);
  lineLegend(defectLabels,defectColors,795,824,828.3,889.3,15.8,13.25,2.2,1.5);
  label("Thermal conductivity (W/mK)",648.3,981.4,21.9,{anchor:"middle",rot:-90});
  label(vacTitle,822.5,1130.7,21.5,{anchor:"middle"});
  label("(d)",658.3,859,21);
}
</script></body></html>
